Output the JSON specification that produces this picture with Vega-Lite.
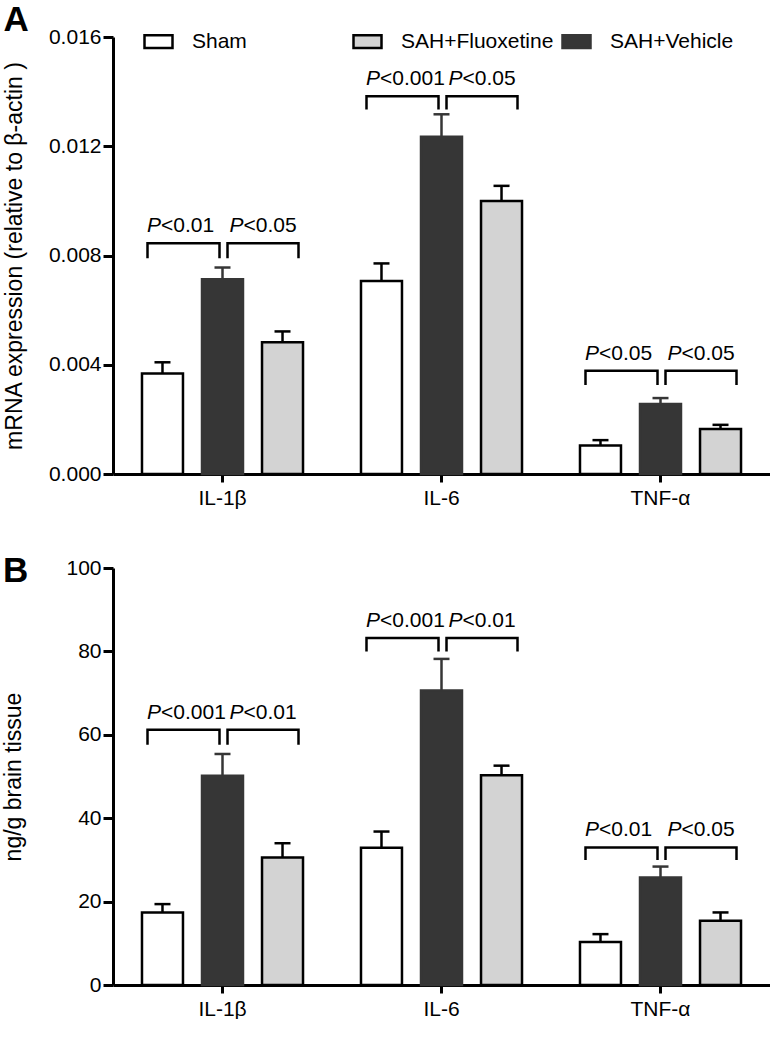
{
  "$schema": "https://vega.github.io/schema/vega-lite/v6.json",
  "padding": {"left": 2, "top": 3, "right": 0, "bottom": 0},
  "spacing": 46,
  "config": {
    "view": {"stroke": null},
    "font": "Liberation Sans",
    "axis": {"domainWidth": 3, "domainColor": "black", "tickWidth": 3, "tickColor": "black", "labelFontSize": 21, "labelFont": "Liberation Sans", "labelColor": "black", "titleFontSize": 23, "titleFont": "Liberation Sans", "titleFontWeight": "normal", "titleColor": "black", "grid": false},
    "axisX": {"labelAngle": 0, "tickSize": 8, "labelPadding": 5},
    "axisY": {"tickSize": 10, "labelPadding": 2},
    "legend": {"padding": 0},
    "title": {"font": "Liberation Sans", "fontSize": 35, "fontWeight": "bold", "color": "black", "anchor": "start"}
  },
  "datasets": {
    "barsA": [
      {"c": "IL-1β", "grp": "Sham", "mean": 0.00368, "upper": 0.00409},
      {"c": "IL-1β", "grp": "SAH+Vehicle", "mean": 0.00713, "upper": 0.00756},
      {"c": "IL-1β", "grp": "SAH+Fluoxetine", "mean": 0.00482, "upper": 0.00522},
      {"c": "IL-6", "grp": "Sham", "mean": 0.00707, "upper": 0.00771},
      {"c": "IL-6", "grp": "SAH+Vehicle", "mean": 0.01235, "upper": 0.01317},
      {"c": "IL-6", "grp": "SAH+Fluoxetine", "mean": 0.0100, "upper": 0.01055},
      {"c": "TNF-α", "grp": "Sham", "mean": 0.00104, "upper": 0.00124},
      {"c": "TNF-α", "grp": "SAH+Vehicle", "mean": 0.00256, "upper": 0.00278},
      {"c": "TNF-α", "grp": "SAH+Fluoxetine", "mean": 0.00165, "upper": 0.0018}
    ],
    "brkA": [
      {"c": "IL-1β", "side": "L", "id": "a1L", "k": 1, "grp": "Sham", "v": 0.0079},
      {"c": "IL-1β", "side": "L", "id": "a1L", "k": 2, "grp": "Sham", "v": 0.00845},
      {"c": "IL-1β", "side": "L", "id": "a1L", "k": 3, "grp": "SAH+Vehicle", "v": 0.00845},
      {"c": "IL-1β", "side": "L", "id": "a1L", "k": 4, "grp": "SAH+Vehicle", "v": 0.0079},
      {"c": "IL-1β", "side": "R", "id": "a1R", "k": 1, "grp": "SAH+Vehicle", "v": 0.0079},
      {"c": "IL-1β", "side": "R", "id": "a1R", "k": 2, "grp": "SAH+Vehicle", "v": 0.00845},
      {"c": "IL-1β", "side": "R", "id": "a1R", "k": 3, "grp": "SAH+Fluoxetine", "v": 0.00845},
      {"c": "IL-1β", "side": "R", "id": "a1R", "k": 4, "grp": "SAH+Fluoxetine", "v": 0.0079},
      {"c": "IL-6", "side": "L", "id": "a2L", "k": 1, "grp": "Sham", "v": 0.01335},
      {"c": "IL-6", "side": "L", "id": "a2L", "k": 2, "grp": "Sham", "v": 0.01383},
      {"c": "IL-6", "side": "L", "id": "a2L", "k": 3, "grp": "SAH+Vehicle", "v": 0.01383},
      {"c": "IL-6", "side": "L", "id": "a2L", "k": 4, "grp": "SAH+Vehicle", "v": 0.01335},
      {"c": "IL-6", "side": "R", "id": "a2R", "k": 1, "grp": "SAH+Vehicle", "v": 0.01335},
      {"c": "IL-6", "side": "R", "id": "a2R", "k": 2, "grp": "SAH+Vehicle", "v": 0.01383},
      {"c": "IL-6", "side": "R", "id": "a2R", "k": 3, "grp": "SAH+Fluoxetine", "v": 0.01383},
      {"c": "IL-6", "side": "R", "id": "a2R", "k": 4, "grp": "SAH+Fluoxetine", "v": 0.01335},
      {"c": "TNF-α", "side": "L", "id": "a3L", "k": 1, "grp": "Sham", "v": 0.00326},
      {"c": "TNF-α", "side": "L", "id": "a3L", "k": 2, "grp": "Sham", "v": 0.00378},
      {"c": "TNF-α", "side": "L", "id": "a3L", "k": 3, "grp": "SAH+Vehicle", "v": 0.00378},
      {"c": "TNF-α", "side": "L", "id": "a3L", "k": 4, "grp": "SAH+Vehicle", "v": 0.00326},
      {"c": "TNF-α", "side": "R", "id": "a3R", "k": 1, "grp": "SAH+Vehicle", "v": 0.00326},
      {"c": "TNF-α", "side": "R", "id": "a3R", "k": 2, "grp": "SAH+Vehicle", "v": 0.00378},
      {"c": "TNF-α", "side": "R", "id": "a3R", "k": 3, "grp": "SAH+Fluoxetine", "v": 0.00378},
      {"c": "TNF-α", "side": "R", "id": "a3R", "k": 4, "grp": "SAH+Fluoxetine", "v": 0.00326}
    ],
    "lblA": [
      {"c": "IL-1β", "side": "L", "grp": "Sham", "top": 0.00845, "rest": "<0.01"},
      {"c": "IL-1β", "side": "R", "grp": "SAH+Vehicle", "top": 0.00845, "rest": "<0.05"},
      {"c": "IL-6", "side": "L", "grp": "Sham", "top": 0.01383, "rest": "<0.001"},
      {"c": "IL-6", "side": "R", "grp": "SAH+Vehicle", "top": 0.01383, "rest": "<0.05"},
      {"c": "TNF-α", "side": "L", "grp": "Sham", "top": 0.00378, "rest": "<0.05"},
      {"c": "TNF-α", "side": "R", "grp": "SAH+Vehicle", "top": 0.00378, "rest": "<0.05"}
    ],
    "barsB": [
      {"c": "IL-1β", "grp": "Sham", "mean": 17.4, "upper": 19.4},
      {"c": "IL-1β", "grp": "SAH+Vehicle", "mean": 50.2, "upper": 55.4},
      {"c": "IL-1β", "grp": "SAH+Fluoxetine", "mean": 30.6, "upper": 34.0},
      {"c": "IL-6", "grp": "Sham", "mean": 32.9, "upper": 36.8},
      {"c": "IL-6", "grp": "SAH+Vehicle", "mean": 70.6, "upper": 78.2},
      {"c": "IL-6", "grp": "SAH+Fluoxetine", "mean": 50.3, "upper": 52.6},
      {"c": "TNF-α", "grp": "Sham", "mean": 10.3, "upper": 12.2},
      {"c": "TNF-α", "grp": "SAH+Vehicle", "mean": 25.8, "upper": 28.4},
      {"c": "TNF-α", "grp": "SAH+Fluoxetine", "mean": 15.4, "upper": 17.4}
    ],
    "brkB": [
      {"c": "IL-1β", "side": "L", "id": "b1L", "k": 1, "grp": "Sham", "v": 57.6},
      {"c": "IL-1β", "side": "L", "id": "b1L", "k": 2, "grp": "Sham", "v": 61.2},
      {"c": "IL-1β", "side": "L", "id": "b1L", "k": 3, "grp": "SAH+Vehicle", "v": 61.2},
      {"c": "IL-1β", "side": "L", "id": "b1L", "k": 4, "grp": "SAH+Vehicle", "v": 57.6},
      {"c": "IL-1β", "side": "R", "id": "b1R", "k": 1, "grp": "SAH+Vehicle", "v": 57.6},
      {"c": "IL-1β", "side": "R", "id": "b1R", "k": 2, "grp": "SAH+Vehicle", "v": 61.2},
      {"c": "IL-1β", "side": "R", "id": "b1R", "k": 3, "grp": "SAH+Fluoxetine", "v": 61.2},
      {"c": "IL-1β", "side": "R", "id": "b1R", "k": 4, "grp": "SAH+Fluoxetine", "v": 57.6},
      {"c": "IL-6", "side": "L", "id": "b2L", "k": 1, "grp": "Sham", "v": 80.0},
      {"c": "IL-6", "side": "L", "id": "b2L", "k": 2, "grp": "Sham", "v": 83.2},
      {"c": "IL-6", "side": "L", "id": "b2L", "k": 3, "grp": "SAH+Vehicle", "v": 83.2},
      {"c": "IL-6", "side": "L", "id": "b2L", "k": 4, "grp": "SAH+Vehicle", "v": 80.0},
      {"c": "IL-6", "side": "R", "id": "b2R", "k": 1, "grp": "SAH+Vehicle", "v": 80.0},
      {"c": "IL-6", "side": "R", "id": "b2R", "k": 2, "grp": "SAH+Vehicle", "v": 83.2},
      {"c": "IL-6", "side": "R", "id": "b2R", "k": 3, "grp": "SAH+Fluoxetine", "v": 83.2},
      {"c": "IL-6", "side": "R", "id": "b2R", "k": 4, "grp": "SAH+Fluoxetine", "v": 80.0},
      {"c": "TNF-α", "side": "L", "id": "b3L", "k": 1, "grp": "Sham", "v": 30.0},
      {"c": "TNF-α", "side": "L", "id": "b3L", "k": 2, "grp": "Sham", "v": 33.0},
      {"c": "TNF-α", "side": "L", "id": "b3L", "k": 3, "grp": "SAH+Vehicle", "v": 33.0},
      {"c": "TNF-α", "side": "L", "id": "b3L", "k": 4, "grp": "SAH+Vehicle", "v": 30.0},
      {"c": "TNF-α", "side": "R", "id": "b3R", "k": 1, "grp": "SAH+Vehicle", "v": 30.0},
      {"c": "TNF-α", "side": "R", "id": "b3R", "k": 2, "grp": "SAH+Vehicle", "v": 33.0},
      {"c": "TNF-α", "side": "R", "id": "b3R", "k": 3, "grp": "SAH+Fluoxetine", "v": 33.0},
      {"c": "TNF-α", "side": "R", "id": "b3R", "k": 4, "grp": "SAH+Fluoxetine", "v": 30.0}
    ],
    "lblB": [
      {"c": "IL-1β", "side": "L", "grp": "Sham", "top": 61.2, "rest": "<0.001"},
      {"c": "IL-1β", "side": "R", "grp": "SAH+Vehicle", "top": 61.2, "rest": "<0.01"},
      {"c": "IL-6", "side": "L", "grp": "Sham", "top": 83.2, "rest": "<0.001"},
      {"c": "IL-6", "side": "R", "grp": "SAH+Vehicle", "top": 83.2, "rest": "<0.01"},
      {"c": "TNF-α", "side": "L", "grp": "Sham", "top": 33.0, "rest": "<0.01"},
      {"c": "TNF-α", "side": "R", "grp": "SAH+Vehicle", "top": 33.0, "rest": "<0.05"}
    ]
  },
  "vconcat": [
    {
      "title": {"text": "A", "offset": -12},
      "width": 657,
      "height": 437,
      "resolve": {"scale": {"xOffset": "independent"}},
      "layer": [
        {
          "data": {"name": "barsA"},
          "mark": {"type": "bar", "strokeWidth": 2.5},
          "encoding": {
            "x": {"field": "c", "type": "nominal", "sort": ["IL-1β", "IL-6", "TNF-α"], "scale": {"paddingInner": 0, "paddingOuter": 0}, "title": null},
            "xOffset": {"field": "grp", "type": "nominal", "sort": ["Sham", "SAH+Vehicle", "SAH+Fluoxetine"], "scale": {"domain": ["Sham", "SAH+Vehicle", "SAH+Fluoxetine"], "paddingInner": 0.317, "paddingOuter": 0.483}},
            "y": {"field": "mean", "type": "quantitative", "stack": null, "scale": {"domain": [0, 0.016], "nice": false}, "title": "mRNA expression (relative to β-actin )", "axis": {"values": [0, 0.004, 0.008, 0.012, 0.016], "format": ".3f", "titlePadding": 22}},
            "fill": {"field": "grp", "type": "nominal", "scale": {"domain": ["Sham", "SAH+Fluoxetine", "SAH+Vehicle"], "range": ["#ffffff", "#d3d3d3", "#363636"]}, "legend": {"orient": "none", "legendX": 30, "legendY": -11, "direction": "horizontal", "title": null, "labelFontSize": 21, "labelFont": "Liberation Sans", "labelColor": "black", "labelOffset": 18, "columnPadding": 3, "gridAlign": "all", "symbolType": "M-1,-0.45H1V0.45H-1Z", "symbolSize": 784, "symbolStrokeColor": "black", "symbolStrokeWidth": 2.5, "symbolOpacity": 1}},
            "stroke": {"field": "grp", "type": "nominal", "scale": {"domain": ["Sham", "SAH+Fluoxetine", "SAH+Vehicle"], "range": ["#000000", "#000000", "#363636"]}, "legend": null}
          }
        },
        {
          "data": {"name": "barsA"},
          "mark": {"type": "rule", "strokeWidth": 2.5},
          "encoding": {
            "x": {"field": "c", "type": "nominal", "sort": ["IL-1β", "IL-6", "TNF-α"], "title": null},
            "xOffset": {"field": "grp", "type": "nominal", "sort": ["Sham", "SAH+Vehicle", "SAH+Fluoxetine"], "scale": {"domain": ["Sham", "SAH+Vehicle", "SAH+Fluoxetine"], "paddingInner": 0.317, "paddingOuter": 0.483}},
            "y": {"field": "mean", "type": "quantitative", "title": "mRNA expression (relative to β-actin )"},
            "y2": {"field": "upper"},
            "color": {"field": "grp", "type": "nominal", "scale": {"domain": ["Sham", "SAH+Fluoxetine", "SAH+Vehicle"], "range": ["#000000", "#000000", "#363636"]}, "legend": null}
          }
        },
        {
          "data": {"name": "barsA"},
          "mark": {"type": "tick", "thickness": 2.5, "size": 16, "opacity": 1},
          "encoding": {
            "x": {"field": "c", "type": "nominal", "sort": ["IL-1β", "IL-6", "TNF-α"], "title": null},
            "xOffset": {"field": "grp", "type": "nominal", "sort": ["Sham", "SAH+Vehicle", "SAH+Fluoxetine"], "scale": {"domain": ["Sham", "SAH+Vehicle", "SAH+Fluoxetine"], "paddingInner": 0.317, "paddingOuter": 0.483}},
            "y": {"field": "upper", "type": "quantitative", "title": "mRNA expression (relative to β-actin )"},
            "color": {"field": "grp", "type": "nominal", "legend": null}
          }
        },
        {
          "data": {"name": "brkA"},
          "transform": [{"filter": "datum.side === 'L'"}],
          "mark": {"type": "line", "color": "black", "strokeWidth": 2.5, "strokeJoin": "miter", "strokeCap": "butt"},
          "encoding": {
            "x": {"field": "c", "type": "nominal", "sort": ["IL-1β", "IL-6", "TNF-α"], "title": null},
            "xOffset": {"field": "grp", "type": "nominal", "sort": ["Sham", "SAH+Vehicle", "SAH+Fluoxetine"], "scale": {"domain": ["Sham", "SAH+Vehicle", "SAH+Fluoxetine"], "paddingInner": 1, "paddingOuter": 0.5208, "align": 0.46}},
            "y": {"field": "v", "type": "quantitative", "title": "mRNA expression (relative to β-actin )"},
            "detail": {"field": "id"},
            "order": {"field": "k"}
          }
        },
        {
          "data": {"name": "brkA"},
          "transform": [{"filter": "datum.side === 'R'"}],
          "mark": {"type": "line", "color": "black", "strokeWidth": 2.5, "strokeJoin": "miter", "strokeCap": "butt"},
          "encoding": {
            "x": {"field": "c", "type": "nominal", "sort": ["IL-1β", "IL-6", "TNF-α"], "title": null},
            "xOffset": {"field": "grp", "type": "nominal", "sort": ["Sham", "SAH+Vehicle", "SAH+Fluoxetine"], "scale": {"domain": ["Sham", "SAH+Vehicle", "SAH+Fluoxetine"], "paddingInner": 1, "paddingOuter": 0.5423, "align": 0.565}},
            "y": {"field": "v", "type": "quantitative", "title": "mRNA expression (relative to β-actin )"},
            "detail": {"field": "id"},
            "order": {"field": "k"}
          }
        },
        {
          "data": {"name": "lblA"},
          "transform": [{"filter": "datum.side === 'L'"}],
          "mark": {"type": "text", "text": "P", "fontStyle": "italic", "align": "right", "baseline": "alphabetic", "dx": 13.5, "dy": -11, "fontSize": 21, "color": "black"},
          "encoding": {
            "x": {"field": "c", "type": "nominal", "sort": ["IL-1β", "IL-6", "TNF-α"], "title": null},
            "xOffset": {"field": "grp", "type": "nominal", "sort": ["Sham", "SAH+Vehicle", "SAH+Fluoxetine"], "scale": {"domain": ["Sham", "SAH+Vehicle", "SAH+Fluoxetine"], "paddingInner": 1, "paddingOuter": 0.5208, "align": 0.46}},
            "y": {"field": "top", "type": "quantitative", "title": "mRNA expression (relative to β-actin )"}
          }
        },
        {
          "data": {"name": "lblA"},
          "transform": [{"filter": "datum.side === 'L'"}],
          "mark": {"type": "text", "align": "left", "baseline": "alphabetic", "dx": 13.5, "dy": -11, "fontSize": 21, "color": "black"},
          "encoding": {
            "x": {"field": "c", "type": "nominal", "sort": ["IL-1β", "IL-6", "TNF-α"], "title": null},
            "xOffset": {"field": "grp", "type": "nominal", "sort": ["Sham", "SAH+Vehicle", "SAH+Fluoxetine"], "scale": {"domain": ["Sham", "SAH+Vehicle", "SAH+Fluoxetine"], "paddingInner": 1, "paddingOuter": 0.5208, "align": 0.46}},
            "y": {"field": "top", "type": "quantitative", "title": "mRNA expression (relative to β-actin )"},
            "text": {"field": "rest"}
          }
        },
        {
          "data": {"name": "lblA"},
          "transform": [{"filter": "datum.side === 'R'"}],
          "mark": {"type": "text", "text": "P", "fontStyle": "italic", "align": "right", "baseline": "alphabetic", "dx": 16, "dy": -11, "fontSize": 21, "color": "black"},
          "encoding": {
            "x": {"field": "c", "type": "nominal", "sort": ["IL-1β", "IL-6", "TNF-α"], "title": null},
            "xOffset": {"field": "grp", "type": "nominal", "sort": ["Sham", "SAH+Vehicle", "SAH+Fluoxetine"], "scale": {"domain": ["Sham", "SAH+Vehicle", "SAH+Fluoxetine"], "paddingInner": 1, "paddingOuter": 0.5423, "align": 0.565}},
            "y": {"field": "top", "type": "quantitative", "title": "mRNA expression (relative to β-actin )"}
          }
        },
        {
          "data": {"name": "lblA"},
          "transform": [{"filter": "datum.side === 'R'"}],
          "mark": {"type": "text", "align": "left", "baseline": "alphabetic", "dx": 16, "dy": -11, "fontSize": 21, "color": "black"},
          "encoding": {
            "x": {"field": "c", "type": "nominal", "sort": ["IL-1β", "IL-6", "TNF-α"], "title": null},
            "xOffset": {"field": "grp", "type": "nominal", "sort": ["Sham", "SAH+Vehicle", "SAH+Fluoxetine"], "scale": {"domain": ["Sham", "SAH+Vehicle", "SAH+Fluoxetine"], "paddingInner": 1, "paddingOuter": 0.5423, "align": 0.565}},
            "y": {"field": "top", "type": "quantitative", "title": "mRNA expression (relative to β-actin )"},
            "text": {"field": "rest"}
          }
        }
      ]
    },
    {
      "title": {"text": "B", "offset": -32},
      "width": 657,
      "height": 417,
      "resolve": {"scale": {"xOffset": "independent"}},
      "layer": [
        {
          "data": {"name": "barsB"},
          "mark": {"type": "bar", "strokeWidth": 2.5},
          "encoding": {
            "x": {"field": "c", "type": "nominal", "sort": ["IL-1β", "IL-6", "TNF-α"], "scale": {"paddingInner": 0, "paddingOuter": 0}, "title": null},
            "xOffset": {"field": "grp", "type": "nominal", "sort": ["Sham", "SAH+Vehicle", "SAH+Fluoxetine"], "scale": {"domain": ["Sham", "SAH+Vehicle", "SAH+Fluoxetine"], "paddingInner": 0.317, "paddingOuter": 0.483}},
            "y": {"field": "mean", "type": "quantitative", "stack": null, "scale": {"domain": [0, 100], "nice": false}, "title": "ng/g brain tissue", "axis": {"values": [0, 20, 40, 60, 80, 100], "titlePadding": 40}},
            "fill": {"field": "grp", "type": "nominal", "scale": {"domain": ["Sham", "SAH+Fluoxetine", "SAH+Vehicle"], "range": ["#ffffff", "#d3d3d3", "#363636"]}, "legend": {"orient": "none", "legendX": 19, "legendY": -9, "direction": "horizontal", "title": null, "labelFontSize": 21, "labelFont": "Liberation Sans", "labelColor": "black", "labelOffset": 15, "columnPadding": 20, "gridAlign": "all", "symbolType": "M-1,-0.45H1V0.45H-1Z", "symbolSize": 900, "symbolStrokeColor": "black", "symbolStrokeWidth": 2.5, "symbolOpacity": 1}},
            "stroke": {"field": "grp", "type": "nominal", "scale": {"domain": ["Sham", "SAH+Fluoxetine", "SAH+Vehicle"], "range": ["#000000", "#000000", "#363636"]}, "legend": null}
          }
        },
        {
          "data": {"name": "barsB"},
          "mark": {"type": "rule", "strokeWidth": 2.5},
          "encoding": {
            "x": {"field": "c", "type": "nominal", "sort": ["IL-1β", "IL-6", "TNF-α"], "title": null},
            "xOffset": {"field": "grp", "type": "nominal", "sort": ["Sham", "SAH+Vehicle", "SAH+Fluoxetine"], "scale": {"domain": ["Sham", "SAH+Vehicle", "SAH+Fluoxetine"], "paddingInner": 0.317, "paddingOuter": 0.483}},
            "y": {"field": "mean", "type": "quantitative", "title": "ng/g brain tissue"},
            "y2": {"field": "upper"},
            "color": {"field": "grp", "type": "nominal", "scale": {"domain": ["Sham", "SAH+Fluoxetine", "SAH+Vehicle"], "range": ["#000000", "#000000", "#363636"]}, "legend": null}
          }
        },
        {
          "data": {"name": "barsB"},
          "mark": {"type": "tick", "thickness": 2.5, "size": 16, "opacity": 1},
          "encoding": {
            "x": {"field": "c", "type": "nominal", "sort": ["IL-1β", "IL-6", "TNF-α"], "title": null},
            "xOffset": {"field": "grp", "type": "nominal", "sort": ["Sham", "SAH+Vehicle", "SAH+Fluoxetine"], "scale": {"domain": ["Sham", "SAH+Vehicle", "SAH+Fluoxetine"], "paddingInner": 0.317, "paddingOuter": 0.483}},
            "y": {"field": "upper", "type": "quantitative", "title": "ng/g brain tissue"},
            "color": {"field": "grp", "type": "nominal", "legend": null}
          }
        },
        {
          "data": {"name": "brkB"},
          "transform": [{"filter": "datum.side === 'L'"}],
          "mark": {"type": "line", "color": "black", "strokeWidth": 2.5, "strokeJoin": "miter", "strokeCap": "butt"},
          "encoding": {
            "x": {"field": "c", "type": "nominal", "sort": ["IL-1β", "IL-6", "TNF-α"], "title": null},
            "xOffset": {"field": "grp", "type": "nominal", "sort": ["Sham", "SAH+Vehicle", "SAH+Fluoxetine"], "scale": {"domain": ["Sham", "SAH+Vehicle", "SAH+Fluoxetine"], "paddingInner": 1, "paddingOuter": 0.5208, "align": 0.46}},
            "y": {"field": "v", "type": "quantitative", "title": "ng/g brain tissue"},
            "detail": {"field": "id"},
            "order": {"field": "k"}
          }
        },
        {
          "data": {"name": "brkB"},
          "transform": [{"filter": "datum.side === 'R'"}],
          "mark": {"type": "line", "color": "black", "strokeWidth": 2.5, "strokeJoin": "miter", "strokeCap": "butt"},
          "encoding": {
            "x": {"field": "c", "type": "nominal", "sort": ["IL-1β", "IL-6", "TNF-α"], "title": null},
            "xOffset": {"field": "grp", "type": "nominal", "sort": ["Sham", "SAH+Vehicle", "SAH+Fluoxetine"], "scale": {"domain": ["Sham", "SAH+Vehicle", "SAH+Fluoxetine"], "paddingInner": 1, "paddingOuter": 0.5423, "align": 0.565}},
            "y": {"field": "v", "type": "quantitative", "title": "ng/g brain tissue"},
            "detail": {"field": "id"},
            "order": {"field": "k"}
          }
        },
        {
          "data": {"name": "lblB"},
          "transform": [{"filter": "datum.side === 'L'"}],
          "mark": {"type": "text", "text": "P", "fontStyle": "italic", "align": "right", "baseline": "alphabetic", "dx": 13.5, "dy": -11, "fontSize": 21, "color": "black"},
          "encoding": {
            "x": {"field": "c", "type": "nominal", "sort": ["IL-1β", "IL-6", "TNF-α"], "title": null},
            "xOffset": {"field": "grp", "type": "nominal", "sort": ["Sham", "SAH+Vehicle", "SAH+Fluoxetine"], "scale": {"domain": ["Sham", "SAH+Vehicle", "SAH+Fluoxetine"], "paddingInner": 1, "paddingOuter": 0.5208, "align": 0.46}},
            "y": {"field": "top", "type": "quantitative", "title": "ng/g brain tissue"}
          }
        },
        {
          "data": {"name": "lblB"},
          "transform": [{"filter": "datum.side === 'L'"}],
          "mark": {"type": "text", "align": "left", "baseline": "alphabetic", "dx": 13.5, "dy": -11, "fontSize": 21, "color": "black"},
          "encoding": {
            "x": {"field": "c", "type": "nominal", "sort": ["IL-1β", "IL-6", "TNF-α"], "title": null},
            "xOffset": {"field": "grp", "type": "nominal", "sort": ["Sham", "SAH+Vehicle", "SAH+Fluoxetine"], "scale": {"domain": ["Sham", "SAH+Vehicle", "SAH+Fluoxetine"], "paddingInner": 1, "paddingOuter": 0.5208, "align": 0.46}},
            "y": {"field": "top", "type": "quantitative", "title": "ng/g brain tissue"},
            "text": {"field": "rest"}
          }
        },
        {
          "data": {"name": "lblB"},
          "transform": [{"filter": "datum.side === 'R'"}],
          "mark": {"type": "text", "text": "P", "fontStyle": "italic", "align": "right", "baseline": "alphabetic", "dx": 16, "dy": -11, "fontSize": 21, "color": "black"},
          "encoding": {
            "x": {"field": "c", "type": "nominal", "sort": ["IL-1β", "IL-6", "TNF-α"], "title": null},
            "xOffset": {"field": "grp", "type": "nominal", "sort": ["Sham", "SAH+Vehicle", "SAH+Fluoxetine"], "scale": {"domain": ["Sham", "SAH+Vehicle", "SAH+Fluoxetine"], "paddingInner": 1, "paddingOuter": 0.5423, "align": 0.565}},
            "y": {"field": "top", "type": "quantitative", "title": "ng/g brain tissue"}
          }
        },
        {
          "data": {"name": "lblB"},
          "transform": [{"filter": "datum.side === 'R'"}],
          "mark": {"type": "text", "align": "left", "baseline": "alphabetic", "dx": 16, "dy": -11, "fontSize": 21, "color": "black"},
          "encoding": {
            "x": {"field": "c", "type": "nominal", "sort": ["IL-1β", "IL-6", "TNF-α"], "title": null},
            "xOffset": {"field": "grp", "type": "nominal", "sort": ["Sham", "SAH+Vehicle", "SAH+Fluoxetine"], "scale": {"domain": ["Sham", "SAH+Vehicle", "SAH+Fluoxetine"], "paddingInner": 1, "paddingOuter": 0.5423, "align": 0.565}},
            "y": {"field": "top", "type": "quantitative", "title": "ng/g brain tissue"},
            "text": {"field": "rest"}
          }
        }
      ]
    }
  ]
}
